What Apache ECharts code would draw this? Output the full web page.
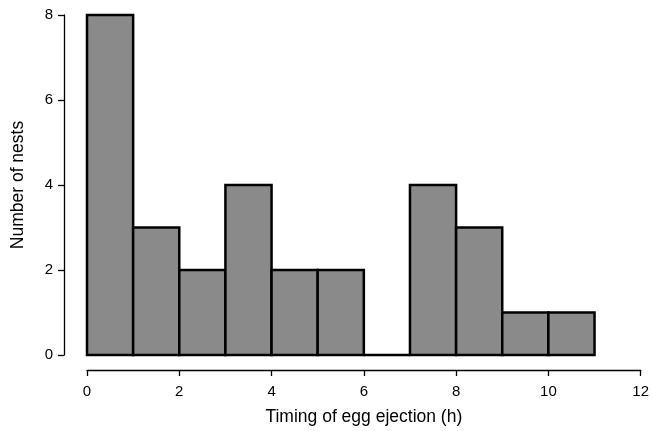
<!DOCTYPE html>
<html>
<head>
<meta charset="utf-8">
<script src="https://cdn.jsdelivr.net/npm/echarts@6/dist/echarts.min.js"></script>
<style>
  html, body { margin: 0; padding: 0; background: #fff; }
  #chart { width: 652px; height: 431px; }
</style>
</head>
<body>
<div id="chart"></div>
<script>
// histogram bins (hours) and counts
var binStart = [0, 1, 2, 3, 4, 5, 6, 7, 8, 9, 10];
var binEnd = [1, 2, 3, 4, 5, 6, 7, 8, 9, 10, 11];
var nests = [8, 3, 2, 4, 2, 2, 0, 4, 3, 1, 1];
var xTicks = [0, 2, 4, 6, 8, 10, 12];
var yTicks = [0, 2, 4, 6, 8];

var font = "'Liberation Sans', Arial, sans-serif";
var chart = echarts.init(document.getElementById("chart"));

var option = {
  animation: false,
  grid: { left: 87, right: 10, top: 15, bottom: 74 },
  xAxis: {
    type: "value",
    min: xTicks[0],
    max: xTicks[xTicks.length - 1],
    interval: 2,
    offset: 15,
    name: "Timing of egg ejection (h)",
    nameLocation: "middle",
    nameGap: 38,
    nameTextStyle: { color: "#000", fontSize: 17.5, fontFamily: font },
    axisLine: { onZero: false, lineStyle: { color: "#000", width: 1.3 } },
    axisTick: { length: 6, lineStyle: { color: "#000", width: 1.3 } },
    axisLabel: { color: "#000", fontSize: 15, fontFamily: font, margin: 14 },
    splitLine: { show: false },
  },
  yAxis: {
    type: "value",
    min: yTicks[0],
    max: yTicks[yTicks.length - 1],
    interval: 2,
    offset: 23,
    name: "Number of nests",
    nameLocation: "middle",
    nameGap: 37,
    nameRotate: 90,
    nameTextStyle: { color: "#000", fontSize: 17.5, fontFamily: font },
    axisLine: { show: true, onZero: false, lineStyle: { color: "#000", width: 1.3 } },
    axisTick: { show: true, length: 6, lineStyle: { color: "#000", width: 1.3 } },
    axisLabel: { color: "#000", fontSize: 15, fontFamily: font, margin: 11 },
    splitLine: { show: false },
  },
  series: [
    {
      type: "custom",
      clip: false,
      data: binStart.map(function (s, i) {
        return [s, binEnd[i], nests[i]];
      }),
      encode: { x: [0, 1], y: 2 },
      renderItem: function (params, api) {
        var p0 = api.coord([api.value(0), 0]);
        var p1 = api.coord([api.value(1), api.value(2)]);
        return {
          type: "rect",
          shape: {
            x: p0[0],
            y: p1[1],
            width: p1[0] - p0[0],
            height: p0[1] - p1[1],
          },
          style: { fill: "#8a8a8a", stroke: "#000", lineWidth: 2.5 },
        };
      },
    },
  ],
};

chart.setOption(option);
</script>
</body>
</html>
